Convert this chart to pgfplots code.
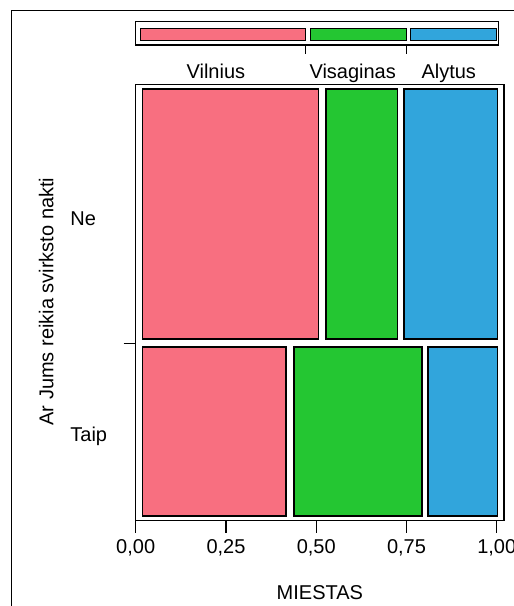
\documentclass[border=0pt]{standalone}
\usepackage{fontspec}
\setmainfont{Liberation Sans}
\usepackage{pgfplots}
\pgfplotsset{compat=1.18}
\definecolor{cpink}{RGB}{248,111,128}
\definecolor{cgreen}{RGB}{36,198,50}
\definecolor{cblue}{RGB}{49,165,220}
\begin{document}
\begin{tikzpicture}
\path[use as bounding box] (0,0) rectangle (257pt,303pt);
\clip (0,0) rectangle (257pt,303pt);
\draw[line width=0.5pt] (5.85pt,-10pt) -- (5.85pt,297.65pt) -- (280pt,297.65pt);
\begin{axis}[
  at={(67.85pt,42.65pt)}, anchor=south west,
  scale only axis, width=184.15pt, height=218pt,
  xmin=0, xmax=1.02, ymin=0, ymax=1,
  axis line style={line width=0.6pt},
  xtick={0,0.25,0.5,0.75,1},
  xticklabels={{0,00},{0,25},{0,50},{0,75},{1,00}},
  ytick={0.407}, yticklabels={},
  tick align=outside, tick pos=left,
  major tick length=6pt,
  tick style={black, line width=0.6pt},
  clip=false,
]
% Ne row
\addplot[fill=cpink, draw=black, line width=0.9pt] coordinates {(0.019,0.4165) (0.506,0.4165) (0.506,0.9897) (0.019,0.9897)} -- cycle;
\addplot[fill=cgreen, draw=black, line width=0.9pt] coordinates {(0.527,0.4165) (0.725,0.4165) (0.725,0.9897) (0.527,0.9897)} -- cycle;
\addplot[fill=cblue, draw=black, line width=0.9pt] coordinates {(0.742,0.4165) (1.002,0.4165) (1.002,0.9897) (0.742,0.9897)} -- cycle;
% Taip row
\addplot[fill=cpink, draw=black, line width=0.9pt] coordinates {(0.019,0.0112) (0.4155,0.0112) (0.4155,0.3987) (0.019,0.3987)} -- cycle;
\addplot[fill=cgreen, draw=black, line width=0.9pt] coordinates {(0.4375,0.0112) (0.7925,0.0112) (0.7925,0.3987) (0.4375,0.3987)} -- cycle;
\addplot[fill=cblue, draw=black, line width=0.9pt] coordinates {(0.8105,0.0112) (1.002,0.0112) (1.002,0.3987) (0.8105,0.3987)} -- cycle;
\node[anchor=base west, inner sep=0pt] at (axis description cs:-0.1784,0.678) {Ne};
\node[anchor=base west, inner sep=0pt] at (axis description cs:-0.1784,0.1819) {Taip};
\node[anchor=base, inner sep=0pt, rotate=90] at (axis description cs:-0.2237,0.5028) {Ar Jums reikia svirksto nakti};
\node[anchor=base, inner sep=0pt] at (axis description cs:0.5,-0.1796) {MIESTAS};
\end{axis}
\begin{axis}[
  at={(67.85pt,260.65pt)}, anchor=south west,
  scale only axis, width=184.15pt, height=37.35pt,
  xmin=0, xmax=1.02, ymin=0, ymax=74.7,
  hide axis, clip=false,
]
\addplot[fill=white, draw=black, line width=0.6pt] coordinates {(-0.0003,39.6) (1.0053,39.6) (1.0053,63.1) (-0.0003,63.1)} -- cycle;
\addplot[fill=cpink, draw=black, line width=0.6pt] coordinates {(0.0137,44.3) (0.4693,44.3) (0.4693,56.4) (0.0137,56.4)} -- cycle;
\addplot[fill=cgreen, draw=black, line width=0.6pt] coordinates {(0.4847,44.3) (0.7493,44.3) (0.7493,56.4) (0.4847,56.4)} -- cycle;
\addplot[fill=cblue, draw=black, line width=0.6pt] coordinates {(0.7617,44.3) (0.9983,44.3) (0.9983,56.4) (0.7617,56.4)} -- cycle;
\addplot[black, line width=0.7pt] coordinates {(0.471,39.6) (0.471,30.4)};
\addplot[black, line width=0.7pt] coordinates {(0.750,39.6) (0.750,30.4)};
\node[anchor=base, inner sep=0pt] at (axis cs:0.222,6.4) {Vilnius};
\node[anchor=base, inner sep=0pt] at (axis cs:0.601,6.4) {Visaginas};
\node[anchor=base, inner sep=0pt] at (axis cs:0.867,6.4) {Alytus};
\end{axis}
\end{tikzpicture}
\end{document}
